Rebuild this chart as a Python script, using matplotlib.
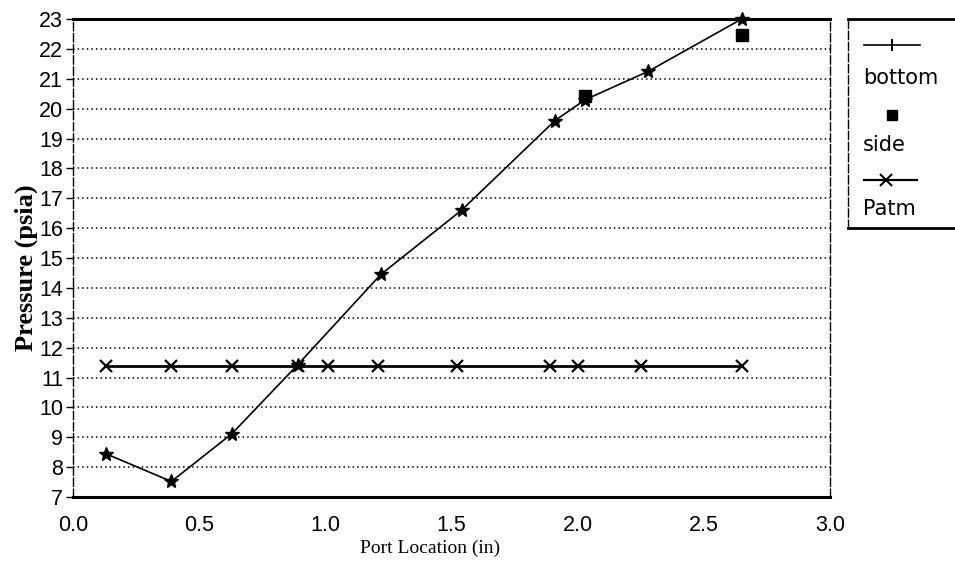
import matplotlib.pyplot as plt

# pressure taps along the port
bottom_x = [0.13, 0.39, 0.63, 0.89, 1.22, 1.54, 1.91, 2.03, 2.28, 2.65]
bottom_p = [8.45, 7.52, 9.12, 11.42, 14.45, 16.6, 19.6, 20.3, 21.25, 23.0]

side_x = [2.03, 2.65]
side_p = [20.42, 22.48]

patm_x = [0.13, 0.39, 0.63, 0.89, 1.01, 1.21, 1.52, 1.89, 2.0, 2.25, 2.65]
patm_p = [11.4] * len(patm_x)

x_ticks = [0.0, 0.5, 1.0, 1.5, 2.0, 2.5, 3.0]
y_ticks = list(range(7, 24))

fig = plt.figure(figsize=(9.55, 5.68), dpi=100)
ax = fig.add_axes([0.0764, 0.125, 0.7927, 0.8415])

for y in y_ticks[1:-1]:
    ax.axhline(y, color='black', lw=1.1, ls=(0, (1, 2)), zorder=1)

ax.plot(bottom_x, bottom_p, color='black', lw=1.2, marker='*', ms=10,
        mfc='black', mec='black', zorder=3, clip_on=False)
ax.plot(side_x, side_p, ls='none', marker='s', ms=8, color='black', zorder=4)
ax.plot(patm_x, patm_p, color='black', lw=2.0, marker='x', ms=8, mew=1.6,
        zorder=3)

ax.set_xlim(0, 3.0)
ax.set_ylim(7, 23)
ax.set_xticks(x_ticks)
ax.set_xticklabels([f'{v:.1f}' for v in x_ticks])
ax.set_yticks(y_ticks)
ax.tick_params(axis='x', length=0, pad=13)
ax.tick_params(axis='y', length=5, width=1, direction='out', pad=2)
for lab in ax.get_xticklabels() + ax.get_yticklabels():
    lab.set_fontfamily('Liberation Sans')
    lab.set_fontsize(15.5)

for side in ['top', 'bottom']:
    ax.spines[side].set_linewidth(2.2)
for side in ['left', 'right']:
    ax.spines[side].set_linewidth(1.0)
    ax.spines[side].set_linestyle((0, (6, 2)))

ax.set_xlabel('Port Location (in)', family='Liberation Serif', fontsize=14)
ax.xaxis.set_label_coords(0.472, -0.09)
ax.set_ylabel('Pressure (psia)', family='Liberation Serif', fontsize=19,
              fontweight='bold')
ax.yaxis.set_label_coords(-0.046, 0.48)

# legend box, with each label under its symbol
lg = fig.add_axes([848 / 955, 1 - 228 / 568, 0.12, (228 - 19) / 568])
lg.set_xlim(0, 1)
lg.set_ylim(1, 0)
lg.set_xticks([])
lg.set_yticks([])
lg.spines['top'].set_linewidth(2.0)
lg.spines['bottom'].set_linewidth(2.0)
lg.spines['left'].set_linewidth(1.0)
lg.spines['left'].set_linestyle((0, (6, 2)))
lg.spines['right'].set_visible(False)

fs = 15
lg.plot([0.14, 0.63], [0.125, 0.125], color='black', lw=1.2)
lg.plot([0.385], [0.125], marker='|', ms=9, mew=1.5, color='black')
lg.text(0.13, 0.28, 'bottom', fontsize=fs, family='DejaVu Sans',
        va='center', ha='left')
lg.plot([0.38], [0.46], marker='s', ms=7, color='black', ls='none')
lg.text(0.13, 0.605, 'side', fontsize=fs, family='DejaVu Sans',
        va='center', ha='left')
lg.plot([0.14, 0.60], [0.77, 0.77], color='black', lw=1.6)
lg.plot([0.33], [0.77], marker='x', ms=8, mew=1.5, color='black')
lg.text(0.13, 0.91, 'Patm', fontsize=fs, family='DejaVu Sans',
        va='center', ha='left')

fig.savefig('out.png', dpi=100)
